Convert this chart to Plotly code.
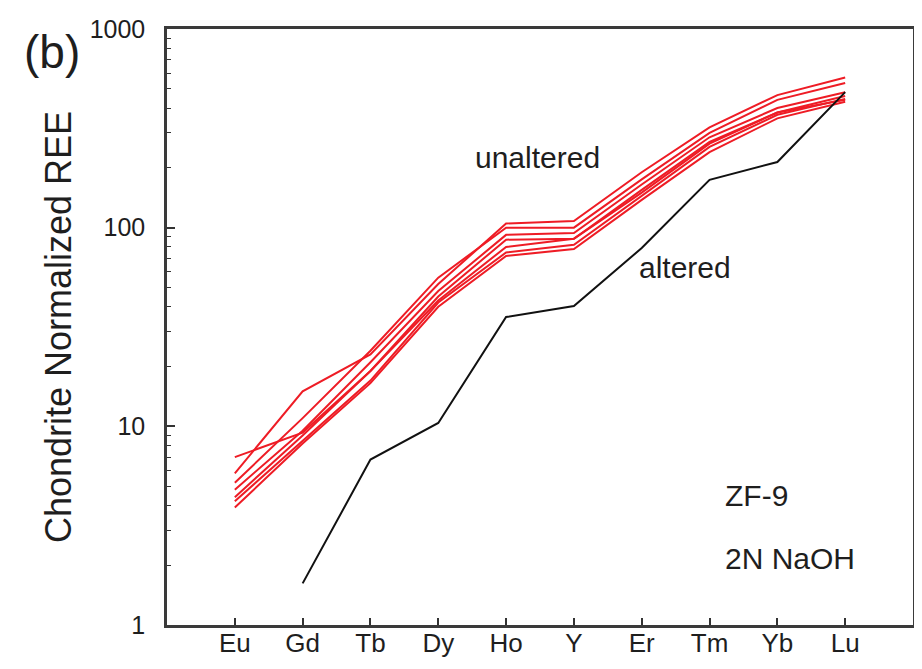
import plotly.graph_objects as go

elements = ["Eu", "Gd", "Tb", "Dy", "Ho", "Y", "Er", "Tm", "Yb", "Lu"]

unaltered_1 = [7.0, 9.3, 19, 43, 80, 88, 150, 265, 380, 440]
unaltered_2 = [5.8, 15, 23, 52, 105, 108, 190, 320, 465, 570]
unaltered_3 = [5.2, 11, 24, 56, 100, 100, 175, 300, 440, 535]
unaltered_4 = [4.8, 9.5, 21, 48, 92, 94, 165, 285, 400, 480]
unaltered_5 = [4.4, 9.0, 19, 45, 87, 88, 155, 270, 380, 460]
unaltered_6 = [4.2, 8.5, 17, 42, 75, 82, 145, 255, 370, 445]
unaltered_7 = [3.9, 8.2, 16.5, 40, 72, 78, 138, 240, 355, 430]
unaltered = [unaltered_1, unaltered_2, unaltered_3, unaltered_4,
             unaltered_5, unaltered_6, unaltered_7]

altered_elements = ["Gd", "Tb", "Dy", "Ho", "Y", "Er", "Tm", "Yb", "Lu"]
altered = [1.62, 6.8, 10.4, 35.5, 40.3, 79, 174, 214, 481]

y_tickvals = [1, 10, 100, 1000]
y_ticktext = ["1", "10", "100", "1000"]

FONT = "Liberation Sans, Arial, Helvetica, sans-serif"
RED = "#ee1c25"
TXT = "#1e1e1e"

fig = go.Figure()
for series in unaltered:
    fig.add_trace(go.Scatter(x=elements, y=series, mode="lines",
                             line=dict(color=RED, width=2),
                             showlegend=False, hoverinfo="skip"))
fig.add_trace(go.Scatter(x=altered_elements, y=altered, mode="lines",
                         line=dict(color="#111111", width=2),
                         showlegend=False, hoverinfo="skip"))

axis_line = dict(showline=True, linecolor="#3a3a3a", linewidth=2.5,
                 mirror=True, showgrid=False, zeroline=False, automargin=False)

fig.update_xaxes(type="category", categoryorder="array", categoryarray=elements,
                 range=[-1, 10], ticks="inside", ticklen=7, tickwidth=1.5,
                 tickcolor="#333333", ticklabelstandoff=-7,
                 tickfont=dict(family=FONT, size=26, color=TXT),
                 **axis_line)
fig.update_yaxes(type="log", range=[0, 3], tickvals=y_tickvals, ticktext=y_ticktext,
                 ticks="inside", ticklen=8, tickwidth=1.5, tickcolor="#333333",
                 ticklabelstandoff=14,
                 minor=dict(ticks="inside", ticklen=4, tickwidth=1.2,
                            tickcolor="#333333", dtick="D1", showgrid=False),
                 tickfont=dict(family=FONT, size=25, color=TXT),
                 title=dict(text="Chondrite Normalized REE",
                            font=dict(family=FONT, size=36, color=TXT),
                            standoff=8),
                 **axis_line)

ann_font = dict(family=FONT, size=30, color=TXT)
fig.add_annotation(x=0.496, y=0.784, xref="paper", yref="paper", text="unaltered",
                   showarrow=False, font=ann_font, xanchor="center", yanchor="middle")
fig.add_annotation(x=0.630, y=0.599, xref="paper", yref="paper", text="altered",
                   showarrow=False, font=ann_font, xanchor="left", yanchor="middle")
fig.add_annotation(x=0.745, y=0.218, xref="paper", yref="paper", text="ZF-9",
                   showarrow=False, font=ann_font, xanchor="left", yanchor="middle")
fig.add_annotation(x=0.745, y=0.112, xref="paper", yref="paper", text="2N NaOH",
                   showarrow=False, font=ann_font, xanchor="left", yanchor="middle")
fig.add_annotation(x=-0.194, y=0.961, xref="paper", yref="paper", text="(b)",
                   showarrow=False, font=dict(family=FONT, size=46, color=TXT),
                   xanchor="left", yanchor="middle")

fig.update_layout(width=914, height=661,
                  margin=dict(l=159, r=9, t=21, b=44),
                  paper_bgcolor="white", plot_bgcolor="white")

fig.write_html("out.html")
